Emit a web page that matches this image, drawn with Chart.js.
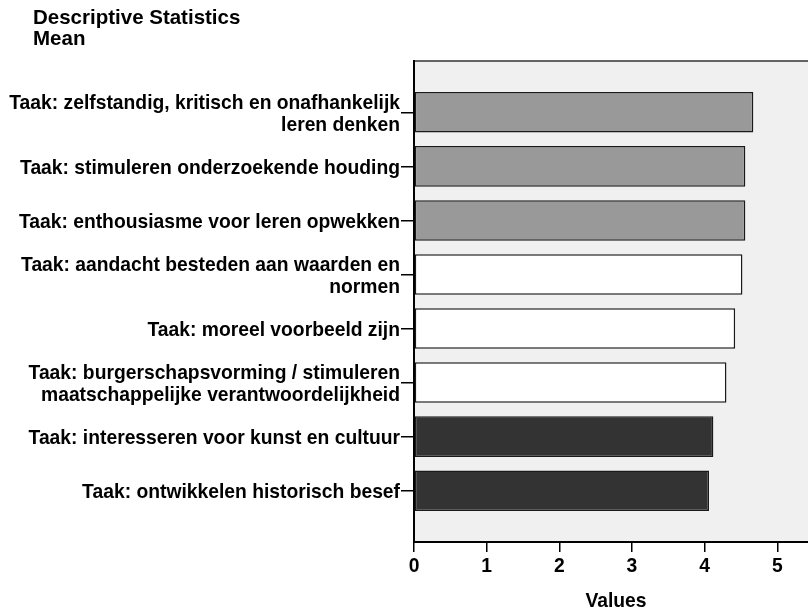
<!DOCTYPE html>
<html>
<head>
<meta charset="utf-8">
<script src="https://cdn.jsdelivr.net/npm/chart.js@4.4.1/dist/chart.umd.min.js"></script>
<style>
  html, body { margin: 0; padding: 0; background: #fff; overflow: hidden; }
  #wrap { width: 818px; height: 610px; }
</style>
</head>
<body>
<div id="wrap"><canvas id="chart" width="818" height="610"></canvas></div>
<script>
(function(){
  'use strict';

  const categories = [
    ['Taak: zelfstandig, kritisch en onafhankelijk', 'leren denken'],
    'Taak: stimuleren onderzoekende houding',
    'Taak: enthousiasme voor leren opwekken',
    ['Taak: aandacht besteden aan waarden en', 'normen'],
    'Taak: moreel voorbeeld zijn',
    ['Taak: burgerschapsvorming / stimuleren', 'maatschappelijke verantwoordelijkheid'],
    'Taak: interesseren voor kunst en cultuur',
    'Taak: ontwikkelen historisch besef'
  ];
  const means = [4.67, 4.56, 4.56, 4.52, 4.42, 4.30, 4.12, 4.06];
  const barColors = ['#999999', '#999999', '#999999', '#ffffff', '#ffffff', '#ffffff', '#333333', '#333333'];
  const xTicks = [0, 1, 2, 3, 4, 5];
  const titleLines = ['Descriptive Statistics', 'Mean'];

  const family = "'Liberation Sans', Arial, Helvetica, sans-serif";
  const font = { family: family, size: 19.3, weight: 'bold', lineHeight: 1.13 };

  // grey plot area + top border line
  const plotBackground = {
    id: 'plotBackground',
    beforeDraw(chart) {
      const { ctx, chartArea: a } = chart;
      ctx.save();
      ctx.fillStyle = '#f0f0f0';
      ctx.fillRect(a.left, a.top, a.right - a.left, a.bottom - a.top);
      ctx.strokeStyle = '#333333';
      ctx.lineWidth = 1.5;
      ctx.beginPath();
      ctx.moveTo(a.left, a.top);
      ctx.lineTo(a.right, a.top);
      ctx.stroke();
      ctx.restore();
    }
  };

  // left aligned two-line heading
  const heading = {
    id: 'heading',
    afterDraw(chart) {
      const ctx = chart.ctx;
      ctx.save();
      ctx.fillStyle = '#000';
      ctx.font = 'bold 20.5px ' + family;
      ctx.textAlign = 'left';
      ctx.textBaseline = 'alphabetic';
      titleLines.forEach((t, i) => ctx.fillText(t, 33, 24 + i * 21));
      ctx.restore();
    }
  };

  let data = {
    datasets: [{
      label: 'Mean',
      data: means.map((v, i) => ({ x: v, y: i })),
      backgroundColor: barColors,
      borderColor: '#1a1a1a',
      borderWidth: 1.5,
      borderSkipped: false,
      barPercentage: 0.75,
      categoryPercentage: 1
    }]
  };

  let options = {
    responsive: false,
    animation: false,
    indexAxis: 'y',
    layout: { padding: { top: 61, left: 0, right: 0, bottom: 0 } },
    plugins: {
      legend: { display: false },
      tooltip: { enabled: false }
    },
    scales: {
      x: {
        type: 'linear',
        bounds: 'data',
        min: 0,
        max: 5.56,
        afterBuildTicks: axis => { axis.ticks = xTicks.map(v => ({ value: v })); },
        afterFit: axis => { axis.height = 68; },
        grid: { drawOnChartArea: false, drawTicks: true, tickLength: 10, color: '#000', lineWidth: 1.5 },
        border: { display: true, color: '#000', width: 2 },
        ticks: { color: '#000', font: font, padding: 4, autoSkip: false },
        title: { display: true, text: 'Values', color: '#000', font: Object.assign({}, font, { lineHeight: 0.9 }), padding: { top: 4, bottom: 0 } }
      },
      y: {
        type: 'linear',
        bounds: 'data',
        reverse: true,
        offset: false,
        min: -0.95,
        max: 7.95,
        afterBuildTicks: axis => { axis.ticks = categories.map((c, i) => ({ value: i })); },
        afterFit: axis => { axis.width = 414; },
        grid: { offset: false, drawOnChartArea: false, drawTicks: true, tickLength: 13, color: '#000', lineWidth: 1.5 },
        border: { display: true, color: '#000', width: 2 },
        ticks: { color: '#000', font: font, padding: 1, labelOffset: 2, autoSkip: false, callback: v => categories[v] }
      }
    }
  };

  new Chart(document.getElementById('chart'), {
    type: 'bar',
    data: data,
    options: options,
    plugins: [plotBackground, heading]
  });
})();
</script>
</body>
</html>
